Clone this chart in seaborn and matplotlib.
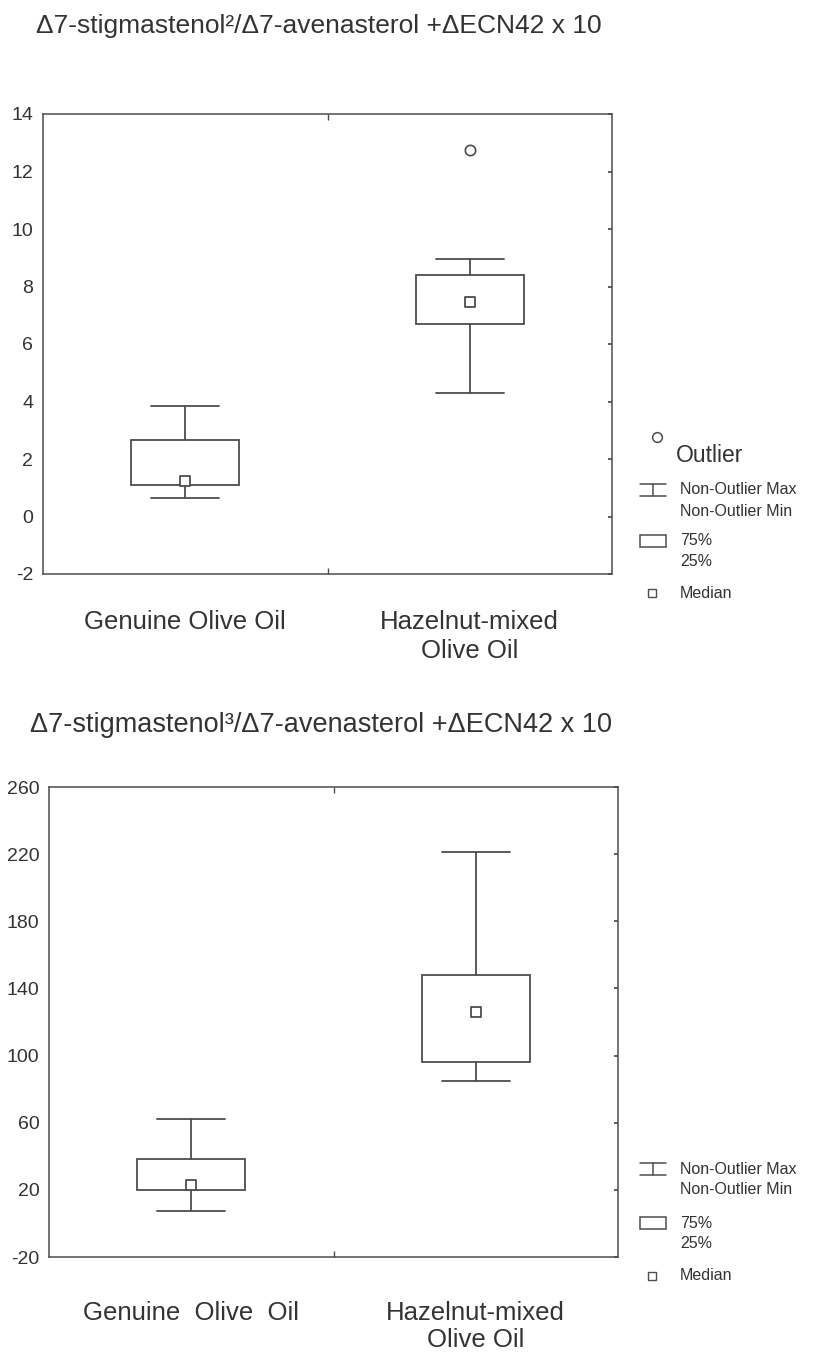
import seaborn as sns
import pandas as pd
import matplotlib.pyplot as plt
from matplotlib.lines import Line2D
from matplotlib.patches import Rectangle
from matplotlib.transforms import ScaledTranslation

# categories / tick labels
top_labels = ['Genuine Olive Oil', 'Hazelnut-mixed\nOlive Oil']
bot_labels = ['Genuine  Olive  Oil', 'Hazelnut-mixed\nOlive Oil']
top_yticks = [-2, 0, 2, 4, 6, 8, 10, 12, 14]
bot_yticks = [-20, 20, 60, 100, 140, 180, 220, 260]

# top panel: D7-stigmastenol^2 / D7-avenasterol + dECN42 x 10
top_whislo = [0.65, 4.3]
top_q1 = [1.1, 6.7]
top_med = [1.25, 7.45]
top_q3 = [2.65, 8.4]
top_whishi = [3.85, 8.95]
top_outliers = [[], [12.75]]

# bottom panel: D7-stigmastenol^3 / D7-avenasterol + dECN42 x 10
bot_whislo = [7.5, 85]
bot_q1 = [20, 96]
bot_med = [23, 126]
bot_q3 = [38.5, 148]
bot_whishi = [62, 221]
bot_outliers = [[], []]

GRAY = '#4d4d4d'
TXT = '#333333'
W, H = 814, 1355

sns.set_theme(style="white")
plt.rcParams['font.family'] = ['Liberation Sans', 'DejaVu Sans']

fig = plt.figure(figsize=(W / 100, H / 100), dpi=100)


def fx(x):
    return x / W


def fy(y):
    return 1 - y / H


def make_ax(left, right, top, bottom):
    return fig.add_axes([fx(left), fy(bottom), (right - left) / W, (bottom - top) / H])


def draw_panel(ax, lo, q1, med, q3, hi, outl, yticks, labels, label_pad, spacing):
    stats = [dict(whislo=a, q1=b, med=c, q3=d, whishi=e, fliers=[])
             for a, b, c, d, e in zip(lo, q1, med, q3, hi)]
    pos = list(range(len(stats)))
    ax.bxp(stats, positions=pos, widths=0.38, capwidths=0.24, showfliers=False,
           patch_artist=True,
           boxprops=dict(facecolor='white', edgecolor=GRAY, linewidth=1.3),
           whiskerprops=dict(color=GRAY, linewidth=1.3),
           capprops=dict(color=GRAY, linewidth=1.3),
           medianprops=dict(visible=False))
    df = pd.DataFrame({'x': pos, 'y': med})
    sns.scatterplot(data=df, x='x', y='y', marker='s', s=55, color='white',
                    edgecolor=GRAY, linewidth=1.3, ax=ax, zorder=5)
    ox = [p for p, vals in zip(pos, outl) for _ in vals]
    oy = [v for vals in outl for v in vals]
    if oy:
        sns.scatterplot(x=ox, y=oy, marker='o', s=55, color='white',
                        edgecolor=GRAY, linewidth=1.2, ax=ax, zorder=5)
    ax.set_xlim(-0.5, len(stats) - 0.5)
    ax.set_ylim(yticks[0], yticks[-1])
    ax.set_yticks(yticks)
    ax.set_yticklabels([str(t) for t in yticks], fontsize=14, color=TXT)
    ax.set_xticks(pos)
    ax.set_xticklabels(labels, fontsize=18.5, color=TXT, va='top', linespacing=spacing)
    # the genuine-oil label sits a little left of its box in the original
    lab0 = ax.get_xticklabels()[0]
    lab0.set_transform(lab0.get_transform() + ScaledTranslation(-0.15, 0, fig.dpi_scale_trans))
    ax.set_xticks([0.5], minor=True)
    ax.tick_params(axis='x', which='major', length=0, pad=label_pad)
    ax.tick_params(axis='x', which='minor', direction='in', length=4,
                   top=True, bottom=True, color=GRAY)
    ax.tick_params(axis='y', which='major', left=False, right=True,
                   direction='in', length=3, color=GRAY, pad=7)
    ax.set_xlabel('')
    ax.set_ylabel('')
    for s in ax.spines.values():
        s.set_color(GRAY)
        s.set_linewidth(1.1)


ax1 = make_ax(43, 612, 114, 574)
draw_panel(ax1, top_whislo, top_q1, top_med, top_q3, top_whishi, top_outliers,
           top_yticks, top_labels, 26, 1.25)

ax2 = make_ax(49, 618, 787, 1257)
draw_panel(ax2, bot_whislo, bot_q1, bot_med, bot_q3, bot_whishi, bot_outliers,
           bot_yticks, bot_labels, 32, 1.12)

# titles
fig.text(fx(36), fy(26), 'Δ7-stigmastenol²/Δ7-avenasterol +ΔECN42 x 10',
         fontsize=19, color=TXT, va='center', ha='left')
fig.text(fx(30), fy(725), 'Δ7-stigmastenol³/Δ7-avenasterol +ΔECN42 x 10',
         fontsize=19.5, color=TXT, va='center', ha='left')


# legends
def legend(y_whisk, y_box, y_med, y_out=None):
    if y_out is not None:
        fig.add_artist(Line2D([fx(657)], [fy(y_out)], marker='o', ms=7, mfc='white',
                              mec=GRAY, mew=1.1, transform=fig.transFigure))
        fig.text(fx(676), fy(y_out + 18), 'Outlier', fontsize=16.5, color=TXT, va='center')
    x0, x1, xm = 640, 666, 653
    for yy in (y_whisk - 6, y_whisk + 6):
        fig.add_artist(Line2D([fx(x0), fx(x1)], [fy(yy), fy(yy)], color=GRAY, lw=1.1,
                              transform=fig.transFigure))
    fig.add_artist(Line2D([fx(xm), fx(xm)], [fy(y_whisk - 6), fy(y_whisk + 6)], color=GRAY,
                          lw=1.1, transform=fig.transFigure))
    fig.text(fx(680), fy(y_whisk), 'Non-Outlier Max', fontsize=11.5, color=TXT, va='center')
    fig.text(fx(680), fy(y_whisk + 21), 'Non-Outlier Min', fontsize=11.5, color=TXT, va='center')
    fig.add_artist(Rectangle((fx(x0), fy(y_box + 6)), (x1 - x0) / W, 12 / H, fill=False,
                             edgecolor=GRAY, lw=1.1, transform=fig.transFigure))
    fig.text(fx(680), fy(y_box), '75%', fontsize=11.5, color=TXT, va='center')
    fig.text(fx(680), fy(y_box + 21), '25%', fontsize=11.5, color=TXT, va='center')
    fig.add_artist(Line2D([fx(652)], [fy(y_med)], marker='s', ms=6, mfc='white',
                          mec=GRAY, mew=1.0, transform=fig.transFigure))
    fig.text(fx(680), fy(y_med), 'Median', fontsize=11.5, color=TXT, va='center')


legend(490, 541, 593, y_out=437)
legend(1169, 1223, 1276)

fig.savefig('out.png', dpi=100)
